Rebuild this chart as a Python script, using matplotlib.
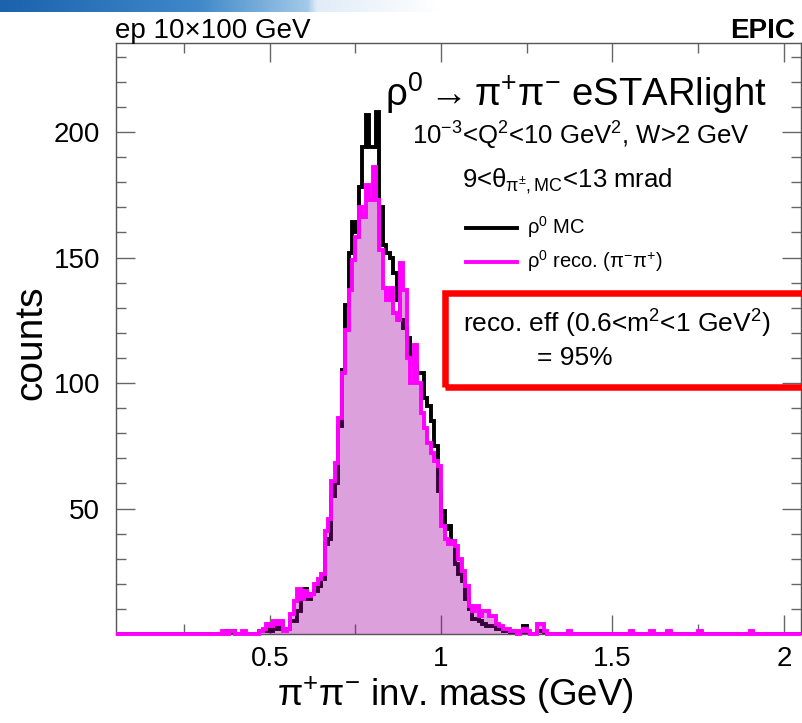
import numpy as np
import matplotlib
matplotlib.use("Agg")
import matplotlib.pyplot as plt
from matplotlib.lines import Line2D
from matplotlib.patches import Rectangle
from matplotlib.colors import LinearSegmentedColormap

plt.rcParams['font.family'] = ['Liberation Sans', 'DejaVu Sans']
plt.rcParams['mathtext.fontset'] = 'custom'
plt.rcParams['mathtext.rm'] = 'Liberation Sans'
plt.rcParams['mathtext.it'] = 'Liberation Sans:italic'
plt.rcParams['mathtext.bf'] = 'Liberation Sans:bold'
plt.rcParams['mathtext.default'] = 'regular'

# binning of the histograms (GeV)
mass_min, mass_max, n_bins = 0.05, 2.05, 200

# rho0 MC counts, one value per 0.01 GeV bin starting at 0.36 GeV
mc_start = 0.36
mc_counts = [
    0, 1, 0, 1, 0, 0, 0, 0, 0, 0,
    0, 1, 1, 2, 1, 2, 3, 2, 2, 2,
    5, 5, 9, 14, 18, 14, 16, 17, 19, 22,
    36, 38, 55, 60, 83, 105, 131, 152, 164, 160,
    178, 194, 207, 194, 194, 208, 170, 155, 152, 150,
    144, 133, 125, 122, 118, 111, 107, 104, 104, 94,
    91, 85, 75, 57, 49, 42, 43, 37, 28, 24,
    21, 14, 10, 6, 6, 5, 4, 3, 3, 3,
    2, 2, 1, 1, 0, 1, 0, 0, 3, 0,
    0, 0, 1, 1, 0, 0, 0, 0, 0, 0,
]

# rho0 reco (pi- pi+) counts, same binning
reco_start = 0.36
reco_counts = [
    1, 0, 1, 1, 0, 0, 1, 0, 0, 0,
    0, 1, 2, 4, 3, 5, 4, 5, 1, 2,
    8, 13, 18, 14, 17, 15, 16, 20, 22, 24,
    41, 46, 61, 68, 86, 104, 121, 137, 149, 158,
    170, 166, 179, 173, 186, 173, 153, 138, 133, 138,
    128, 125, 148, 137, 110, 100, 115, 100, 88, 82,
    76, 72, 69, 67, 43, 38, 36, 37, 35, 30,
    25, 19, 11, 9, 11, 7, 9, 9, 7, 7,
    4, 3, 2, 2, 1, 1, 0, 1, 2, 1,
    0, 0, 4, 4, 1, 0, 0, 0, 0, 0,
]
# isolated entries in the high-mass tail
reco_tail_mass = [1.37, 1.55, 1.61, 1.66, 1.75, 1.90]
reco_tail_counts = [1, 1, 1, 1, 1, 1]

x_ticks = [0.5, 1.0, 1.5, 2.0]
x_ticklabels = ["0.5", "1", "1.5", "2"]
y_ticks = [50, 100, 150, 200]

W, H = 802, 723


def fx(x):
    return x / W


def fy(y):
    return 1 - y / H


def to_hist(start, values, tail_mass=(), tail_counts=()):
    width = (mass_max - mass_min) / n_bins
    counts = np.zeros(n_bins)
    i0 = int(round((start - mass_min) / width))
    counts[i0:i0 + len(values)] = values
    for m, c in zip(tail_mass, tail_counts):
        counts[int(round((m - mass_min) / width))] = c
    return counts


edges = np.linspace(mass_min, mass_max, n_bins + 1)
mc = to_hist(mc_start, mc_counts)
reco = to_hist(reco_start, reco_counts, reco_tail_mass, reco_tail_counts)

fig = plt.figure(figsize=(W / 100, H / 100), dpi=100)

# blue slide header strip
band = fig.add_axes([0, fy(12), fx(440), 12 / H])
cmap = LinearSegmentedColormap.from_list(
    "band", [(0.0, "#1a63ad"), (0.45, "#3f88c9"), (0.70, "#a3c9e8"),
             (0.72, "#e0ecf7"), (1.0, "#ffffff")])
band.imshow(np.linspace(0, 1, 256)[None, :], aspect="auto", cmap=cmap)
band.axis("off")

ax = fig.add_axes([fx(115.5), fy(634), fx(801) - fx(115.5), (634 - 43) / H])

ax.stairs(mc, edges, color="black", linewidth=2.8, zorder=2)
ax.stairs(reco, edges, fill=True, color=(0.63, 0.0, 0.63), alpha=0.37,
          linewidth=0, zorder=3)
ax.stairs(reco, edges, color="magenta", linewidth=2.8, zorder=4,
          clip_on=False)

ax.set_xlim(mass_min, mass_max)
ax.set_ylim(0, 235.5)
ax.set_xticks(x_ticks)
ax.set_xticklabels(x_ticklabels)
ax.set_xticks(np.arange(0.25, 2.01, 0.25), minor=True)
ax.set_yticks(y_ticks)
ax.set_yticks(np.arange(10, 235, 10), minor=True)
ax.tick_params(which="both", direction="in", top=True, right=True,
               color="#666666", width=1, labelsize=20)
ax.tick_params(which="major", length=14)
ax.tick_params(which="minor", length=7)
ax.tick_params(axis="y", pad=11)
ax.tick_params(axis="x", pad=9)
for s in ax.spines.values():
    s.set_color("#555555")
    s.set_linewidth(1)

# axis titles
fig.text(fx(31), fy(343), "counts", rotation=90, fontsize=28,
         ha="center", va="center")
fig.text(fx(455), fy(695), r"$\pi^{+}\pi^{-}$ inv. mass (GeV)", fontsize=26.5,
         ha="center", va="center")

# header texts
fig.text(fx(115), fy(38), "ep 10\u00d7100 GeV", fontsize=20, ha="left",
         va="baseline")
fig.text(fx(795), fy(38), "EPIC", fontsize=20, fontweight="bold",
         ha="right", va="baseline")

# plot labels
fig.text(fx(767), fy(106), r"$\rho^{0} \rightarrow \pi^{+}\pi^{-}$ eSTARlight",
         fontsize=27.5, ha="right", va="baseline")
fig.text(fx(412), fy(145), r"$10^{-3}$<Q$^{2}$<10 GeV$^{2}$, W>2 GeV",
         fontsize=18.5, ha="left", va="baseline")
fig.text(fx(462), fy(187), r"9<$\theta_{\pi^{\pm},MC}$<13 mrad",
         fontsize=18.5, ha="left", va="baseline")

# legend
fig.add_artist(Line2D([fx(466), fx(517)], [fy(228), fy(228)],
                      color="black", linewidth=2.8))
fig.add_artist(Line2D([fx(466), fx(517)], [fy(262), fy(262)],
                      color="magenta", linewidth=2.8))
fig.text(fx(527), fy(234), r"$\rho^{0}$ MC", fontsize=14.5, ha="left",
         va="baseline")
fig.text(fx(527), fy(268), r"$\rho^{0}$ reco. ($\pi^{-}\pi^{+}$)",
         fontsize=14.5, ha="left", va="baseline")

# efficiency box
fig.add_artist(Rectangle((fx(445), fy(386.5)), fx(820) - fx(445),
                         (386.5 - 292.5) / H, fill=False, edgecolor="red",
                         linewidth=4.7, clip_on=False))
fig.text(fx(463), fy(333), r"reco. eff (0.6<m$^{2}$<1 GeV$^{2}$)",
         fontsize=19, ha="left", va="baseline")
fig.text(fx(537), fy(365), "= 95%", fontsize=19, ha="left", va="baseline")

fig.savefig("out.png", dpi=100)
